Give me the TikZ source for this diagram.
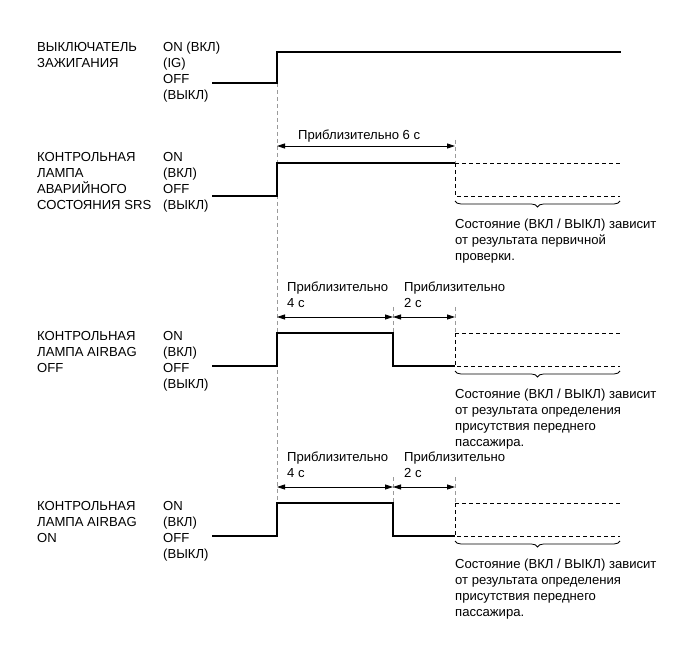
\documentclass[tikz,border=0pt]{standalone}
\usepackage{fontspec}
\setmainfont{Liberation Sans}
\usetikzlibrary{arrows.meta,decorations.pathreplacing}
\definecolor{guidegray}{HTML}{9A9A9A}

\begin{document}
\begin{tikzpicture}[x=1pt, y=-1pt,
  lbl/.style={anchor=base west, inner sep=0pt, align=left, font=\fontsize{13.1}{16}\selectfont},
  sig/.style={line width=1.2pt, black},
  state/.style={line width=0.9pt, black, dash pattern=on 4pt off 3pt},
  guide/.style={line width=0.8pt, guidegray, dash pattern=on 4pt off 3pt},
  dim/.style={{Triangle[length=8pt,width=5pt]}-{Triangle[length=8pt,width=5pt]}, line width=0.8pt},
  brc/.style={decorate, decoration={brace, mirror, amplitude=6pt}, line width=0.8pt}
]
  \useasboundingbox (0,0) rectangle (691,660);

  % ignition switch (base = last line)
  \node[lbl] (igname) at (37,67.5) {ВЫКЛЮЧАТЕЛЬ\\ЗАЖИГАНИЯ};
  \node[lbl] (iglvl) at (163,99.5) {ON (ВКЛ)\\(IG)\\OFF\\(ВЫКЛ)};
  \coordinate (igon) at (277,83);
  \coordinate (igend) at (277,536);
  \draw[guide] (igon) -- (igend);
  \draw[sig] (212,83) -- (igon) -- (277,52) -- (621,52);

  % SRS warning lamp
  \node[lbl] (srsname) at (37,209.5) {КОНТРОЛЬНАЯ\\ЛАМПА\\АВАРИЙНОГО\\СОСТОЯНИЯ SRS};
  \node[lbl] (srslvl) at (163,209.5) {ON\\(ВКЛ)\\OFF\\(ВЫКЛ)};
  \node[lbl] (srstime) at (298,139.5) {Приблизительно 6 с};
  \coordinate (srsa) at (277,146);
  \coordinate (srsb) at (455,146);
  \draw[guide] (455,140) -- (455,163);
  \draw[dim] (srsa) -- (srsb);
  \draw[sig] (212,196) -- (277,196) -- (277,163) -- (455,163);
  \draw[state] (455,163) -- (620,163) (455,163) -- (455,196) -- (620,196);
  \draw[brc] (455,201) -- (620,201);
  \node[lbl] (srsnote) at (455,260.5) {Состояние (ВКЛ / ВЫКЛ) зависит\\от результата первичной\\проверки.};

  % AIRBAG OFF / ON lamps
  \foreach \dy/\kind in {0/OFF,170/ON} {
    \begin{scope}[shift={(0,\dy)}]
      \node[lbl] (name\kind) at (37,372.5) {КОНТРОЛЬНАЯ\\ЛАМПА AIRBAG\\\kind};
      \node[lbl] (lvl\kind) at (163,388.5) {ON\\(ВКЛ)\\OFF\\(ВЫКЛ)};
      \node[lbl] (tfour\kind) at (287,307.5) {Приблизительно\\4 с};
      \node[lbl] (ttwo\kind) at (404,307.5) {Приблизительно\\2 с};
      \coordinate (a\kind) at (277,317);
      \coordinate (b\kind) at (393,317);
      \coordinate (c\kind) at (455,317);
      \draw[guide] (393,307) -- (393,333) (455,307) -- (455,333);
      \draw[dim] (a\kind) -- (b\kind);
      \draw[dim] (b\kind) -- (c\kind);
      \draw[sig] (212,366) -- (277,366) -- (277,333) -- (393,333) -- (393,366) -- (455,366);
      \draw[state] (455,333) -- (620,333) (455,333) -- (455,366) -- (620,366);
      \draw[brc] (455,371) -- (620,371);
      \node[lbl] (note\kind) at (455,446.5) {Состояние (ВКЛ / ВЫКЛ) зависит\\от результата определения\\присутствия переднего\\пассажира.};
    \end{scope}
  }
\end{tikzpicture}
\end{document}
